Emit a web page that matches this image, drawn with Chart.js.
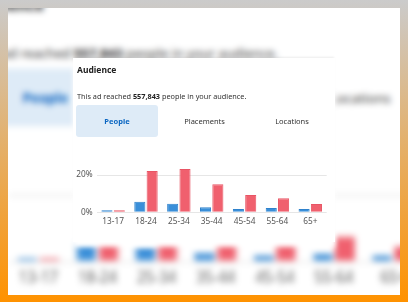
<!DOCTYPE html>
<html>
<head>
<meta charset="utf-8">
<script src="https://cdn.jsdelivr.net/npm/chart.js@4.4.1/dist/chart.umd.min.js"></script>
<style>
  html, body { margin: 0; width: 408px; height: 302px; overflow: hidden; }
  body {
    position: relative;
    background: linear-gradient(#cbcbcb, #ff9200);
    font-family: "Noto Sans", sans-serif;
    color: #222;
  }
  #panel { position: absolute; left: 8px; top: 8px; width: 392px; height: 287px; background: #fff; overflow: hidden; }
  #blurLayer { position: absolute; left: 0; top: 0; width: 100%; height: 100%; filter: blur(3px); }
  #blurLayer .card { position: absolute; left: -41.6px; top: -24.4px; transform: scale(1.8); transform-origin: 0 0; }

  .card { position: absolute; width: 262px; height: 184px; background: #fff; }
  #front { left: 73px; top: 58px; box-shadow: 0 -2px 2px -1px rgba(0,0,0,0.08), 0 5px 5px #fff; }

  .title { position: absolute; left: 4px; top: 5.5px; line-height: 12px; font-size: 8.5px; font-weight: bold; }
  .reach { position: absolute; left: 4px; top: 32px; line-height: 12px; font-size: 7.3px; color: #333; white-space: nowrap; }
  .reach b { color: #222; }
  .tab { position: absolute; top: 47px; width: 82px; height: 32px; line-height: 32px; text-align: center; font-size: 7.5px; color: #333; border-radius: 3px; }
  .tab.on { background: #deebf7; color: #0a66c2; font-weight: bold; }
  .plot { position: absolute; left: 0; top: 85px; width: 262px; height: 85px; }
</style>
</head>
<body>
<div id="panel"><div id="blurLayer"></div></div>

<script>
const categories = ['13-17', '18-24', '25-34', '35-44', '45-54', '55-64', '65+'];
// blue and red series, percent of reached people
const seriesA = [1.1, 5.7, 4.6, 2.7, 1.8, 2.3, 1.8];
const seriesB = [1.1, 22.1, 23.2, 15.0, 9.3, 7.5, 4.5];
const yTicks = [0, 20];
const tabs = ['People', 'Placements', 'Locations'];
const reached = '557,843';

const FONT = '"Noto Sans", sans-serif';

function buildCard(parent, id) {
  const card = document.createElement('div');
  card.className = 'card';
  if (id) card.id = id;
  card.innerHTML =
    '<div class="title">Audience</div>' +
    '<div class="reach">This ad reached <b>' + reached + '</b> people in your audience.</div>' +
    tabs.map((t, i) => '<div class="tab' + (i === 0 ? ' on' : '') + '" style="left:' + (3 + i * 87.5) + 'px">' + t + '</div>').join('') +
    '<div class="plot"><canvas></canvas></div>';
  parent.appendChild(card);

  const ctx = card.querySelector('canvas').getContext('2d');
  new Chart(ctx, {
    type: 'bar',
    data: {
      labels: categories,
      datasets: [{
        label: 'A',
        data: seriesA,
        backgroundColor: '#3a8fd9',
        borderColor: '#2f82cc',
        borderWidth: 1
      }, {
        label: 'B',
        data: seriesB,
        backgroundColor: '#f0606e',
        borderColor: '#e85565',
        borderWidth: 1
      }]
    },
    options: {
      responsive: true,
      maintainAspectRatio: false,
      animation: false,
      categoryPercentage: 0.75,
      barPercentage: 0.9,
      layout: { padding: { top: 22.7, right: 8.3, left: 0, bottom: 0 } },
      plugins: { legend: { display: false }, tooltip: { enabled: false } },
      scales: {
        x: {
          grid: { display: false, drawTicks: false },
          border: { display: false },
          ticks: { color: '#555', font: { family: FONT, size: 8.3 }, padding: 4, maxRotation: 0, autoSkip: false },
          afterFit: (s) => { s.height = 15.7; }
        },
        y: {
          min: 0,
          max: 25,
          grid: { color: '#e6e6e6', drawTicks: false },
          border: { display: false },
          ticks: { color: '#555', font: { family: FONT, size: 8.3 }, padding: 4, callback: (v) => v + '%' },
          afterBuildTicks: (s) => { s.ticks = yTicks.map((v) => ({ value: v })); },
          afterFit: (s) => { s.width = 23.7; }
        }
      }
    }
  });
}

// blurred, zoomed copy behind, then the sharp card on top
buildCard(document.getElementById('blurLayer'));
buildCard(document.body, 'front');
</script>
</body>
</html>
